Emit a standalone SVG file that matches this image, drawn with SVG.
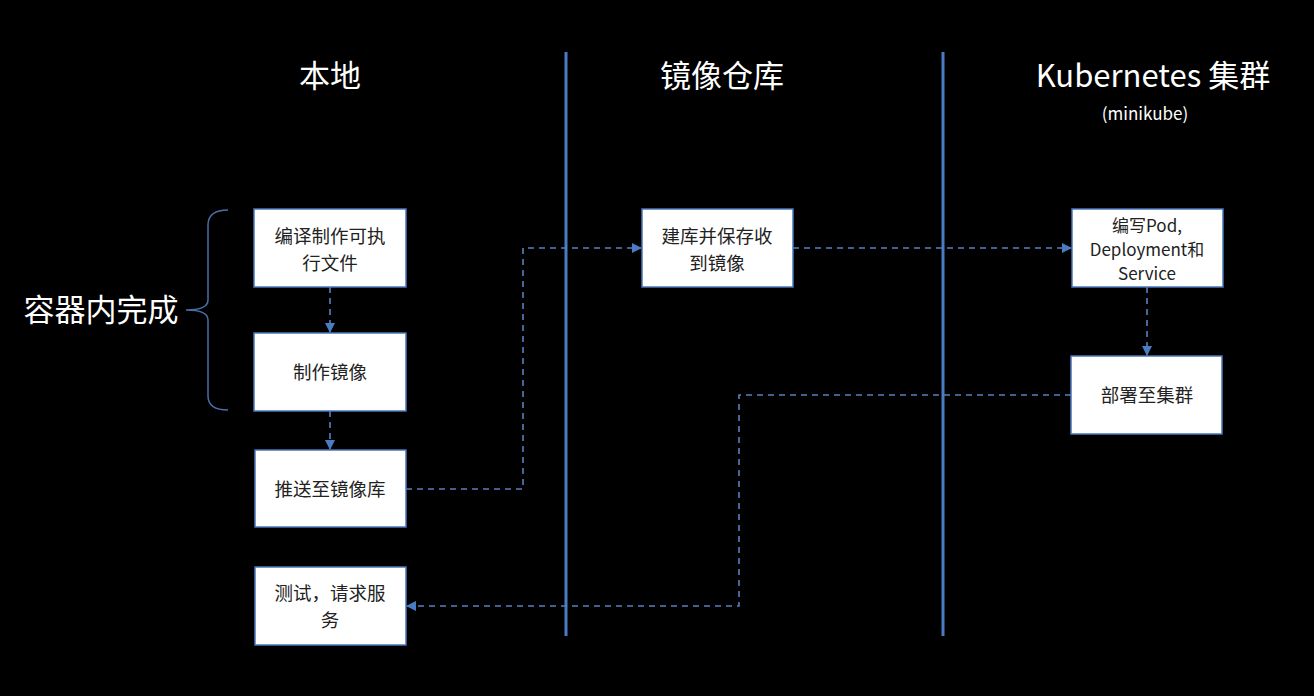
<svg xmlns="http://www.w3.org/2000/svg" width="1314" height="696" viewBox="0 0 1314 696">
<style>
.bg{fill:#000}
.box{fill:#fff;stroke:#4a76b8;stroke-width:1.5}
.t{font-family:"Noto Sans CJK SC","Liberation Sans",sans-serif;font-size:18.5px;fill:#222;text-anchor:middle}
.ts{font-family:"Noto Sans CJK SC","Liberation Sans",sans-serif;font-size:17px;fill:#222;text-anchor:middle}
.h{font-family:"Noto Sans CJK SC","Liberation Sans",sans-serif;font-size:31px;fill:#fff;text-anchor:middle}
.sub{font-family:"Noto Sans CJK SC","Liberation Sans",sans-serif;font-size:17px;fill:#fff;text-anchor:middle}
.sep{stroke:#4a7cc4;stroke-width:3}
.c{fill:none;stroke:#5b7fbf;stroke-width:1.6;stroke-dasharray:6 5}
</style>
<defs>
<marker id="ah" viewBox="0 0 10 10" refX="9" refY="5" markerWidth="10" markerHeight="10" markerUnits="userSpaceOnUse" orient="auto">
<path d="M0,0 L10,5 L0,10 z" fill="#4a7cc4"/>
</marker>
</defs>
<rect class="bg" x="0" y="0" width="1314" height="696"/>
<g id="separators">
<line class="sep" x1="566" y1="52" x2="566" y2="636"/>
<line class="sep" x1="943" y1="52" x2="943" y2="636"/>
</g>
<g id="headings">
<text class="h" x="330" y="87">本地</text>
<text class="h" x="722" y="87">镜像仓库</text>
<text class="h" x="1153" y="87">Kubernetes 集群</text>
<text class="sub" x="1145" y="120">(minikube)</text>
</g>
<g id="container-label">
<text class="h" x="101" y="321">容器内完成</text>
<path d="M228,210 Q208,210 208,225 L208,300 Q208,310 186,310 Q208,310 208,320 L208,396 Q208,410 228,410" fill="none" stroke="#4a6ea8" stroke-width="1.5"/>
</g>
<g id="connectors">
<line class="c" x1="330" y1="287" x2="330" y2="332" marker-end="url(#ah)"/>
<line class="c" x1="330" y1="411" x2="330" y2="449" marker-end="url(#ah)"/>
<polyline class="c" points="406,489 523,489 523,248 641,248" marker-end="url(#ah)"/>
<line class="c" x1="793" y1="248" x2="1071" y2="248" marker-end="url(#ah)"/>
<line class="c" x1="1147" y1="287" x2="1147" y2="355" marker-end="url(#ah)"/>
<polyline class="c" points="1071,395 739,395 739,606 407,606" marker-end="url(#ah)"/>
</g>
<g id="n1"><rect class="box" x="254" y="209" width="152" height="78"/><text class="t" x="330" y="243">编译制作可执</text><text class="t" x="330" y="270">行文件</text></g>
<g id="n2"><rect class="box" x="254" y="333" width="152" height="78"/><text class="t" x="330" y="379">制作镜像</text></g>
<g id="n3"><rect class="box" x="255" y="450" width="151" height="77"/><text class="t" x="330" y="496">推送至镜像库</text></g>
<g id="n4"><rect class="box" x="255" y="567" width="151" height="78"/><text class="t" x="330" y="600">测试，请求服</text><text class="t" x="330" y="627">务</text></g>
<g id="n5"><rect class="box" x="642" y="209" width="151" height="78"/><text class="t" x="717" y="243">建库并保存收</text><text class="t" x="717" y="270">到镜像</text></g>
<g id="n6"><rect class="box" x="1072" y="209" width="151" height="78"/><text class="ts" x="1147" y="232">编写Pod,</text><text class="ts" x="1147" y="256">Deployment和</text><text class="ts" x="1147" y="280">Service</text></g>
<g id="n7"><rect class="box" x="1071" y="356" width="151" height="78"/><text class="t" x="1147" y="402">部署至集群</text></g>
</svg>
